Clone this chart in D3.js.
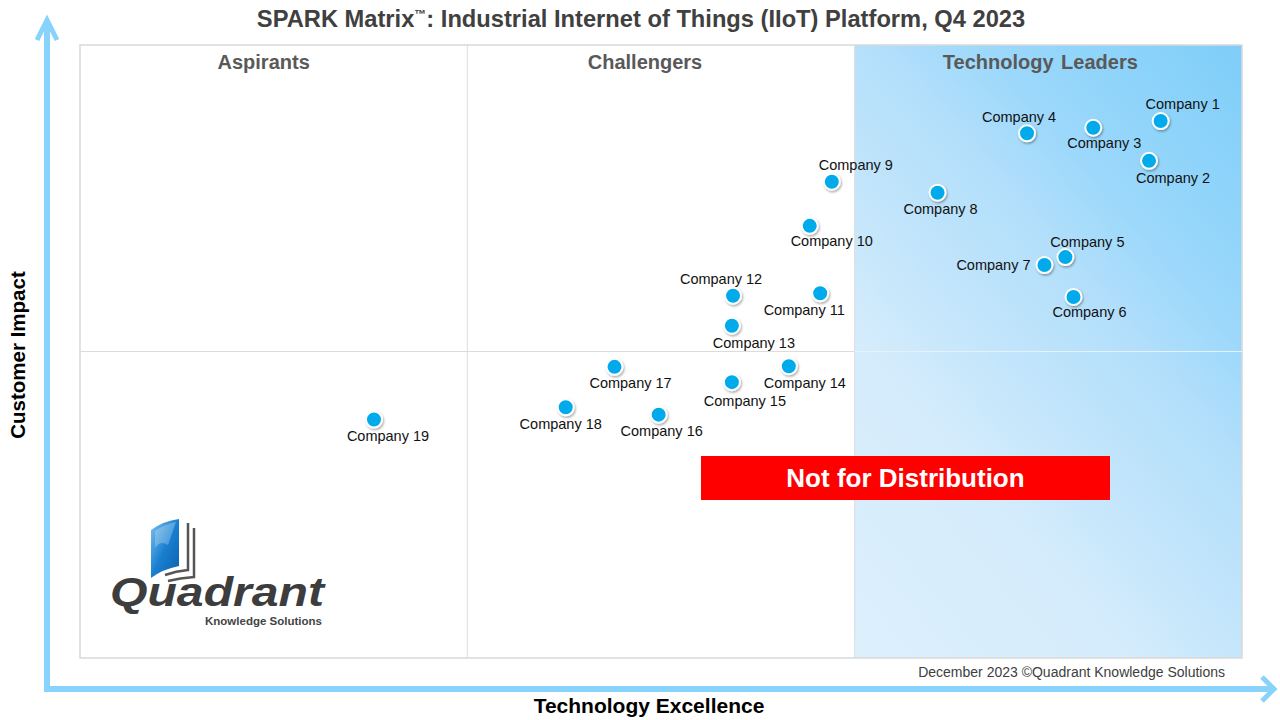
<!DOCTYPE html>
<html><head><meta charset="utf-8">
<script src="https://cdn.jsdelivr.net/npm/d3@7"></script>
<style>
html,body{margin:0;padding:0;background:#fff;}
svg{display:block;font-family:"Liberation Sans",Arial,sans-serif;}
</style></head>
<body>
<svg id="chart" width="1280" height="720"></svg>
<script>
// ---- data ----
const companies = ["Company 1","Company 2","Company 3","Company 4","Company 5","Company 6","Company 7","Company 8","Company 9","Company 10",
  "Company 11","Company 12","Company 13","Company 14","Company 15","Company 16","Company 17","Company 18","Company 19"];
const techExcellence = [93.0,92.0,87.2,81.5,84.8,85.5,83.0,73.8,64.7,62.8,63.7,56.2,56.1,61.0,56.1,49.8,46.0,41.8,25.3];
const customerImpact = [87.6,81.1,86.5,85.6,65.4,58.9,64.1,75.9,77.7,70.5,59.5,59.1,54.2,47.6,45.0,39.7,47.5,40.9,38.9];
const quadrantNames = ["Aspirants","Challengers","Technology Leaders"];
const titleMain = "SPARK Matrix";
const titleRest = ": Industrial Internet of Things (IIoT) Platform, Q4 2023";
const xAxisTitle = "Technology Excellence";
const yAxisTitle = "Customer Impact";
const footerText = "December 2023 \u00A9Quadrant Knowledge Solutions";
const bannerText = "Not for Distribution";

// ---- layout (label offsets relative to dot, px) ----
const labelOffsets = [[22,-17],[24,17],[11,15],[-8,-16],[22,-15],[16,15],[-51,0],[3,16],[24,-17],[22,15],
  [-16,17],[-12,-17],[22,17],[16,17],[13,19],[3,16],[16,16],[-5,17],[14,16]];
const quadLabelShift = [-10,-16,-8];

const svg = d3.select("#chart");
const plot = {l:80, r:1242, t:45, b:658};
const x = d3.scaleLinear().domain([0,100]).range([plot.l, plot.r]);
const y = d3.scaleLinear().domain([0,100]).range([plot.b, plot.t]);

const defs = svg.append("defs");
const g = defs.append("linearGradient").attr("id","leadGrad").attr("gradientUnits","userSpaceOnUse")
  .attr("x1",x(200/3)).attr("y1",plot.b).attr("x2",x(200/3)+525).attr("y2",plot.b-452);
[[0,"#dceffd"],[0.3,"#d5ecfc"],[0.45,"#c2e5fb"],[0.6,"#b3dffb"],[0.72,"#9cd8fb"],[1,"#7ecef9"]]
  .forEach(s=>g.append("stop").attr("offset",s[0]).attr("stop-color",s[1]));
const f = defs.append("filter").attr("id","shadow").attr("x","-50%").attr("y","-50%").attr("width","200%").attr("height","200%");
f.append("feDropShadow").attr("dx",1).attr("dy",1.5).attr("stdDeviation",1.2).attr("flood-color","#000").attr("flood-opacity",0.35);
const bg = defs.append("linearGradient").attr("id","bookGrad").attr("x1","0").attr("y1","0").attr("x2","1").attr("y2","1");
bg.append("stop").attr("offset","0").attr("stop-color","#7fc4f0");
bg.append("stop").attr("offset","0.5").attr("stop-color","#1a7fd0");
bg.append("stop").attr("offset","1").attr("stop-color","#0a5fae");

// leaders column gradient
svg.append("rect").attr("x",x(200/3)).attr("y",plot.t).attr("width",x(100)-x(200/3)).attr("height",plot.b-plot.t)
  .attr("fill","url(#leadGrad)");

// frame & dividers
svg.append("rect").attr("x",plot.l).attr("y",plot.t).attr("width",plot.r-plot.l).attr("height",plot.b-plot.t)
  .attr("fill","none").attr("stroke","#d9d9d9").attr("stroke-width",1.5);
[100/3, 200/3].forEach(v=>{
  svg.append("line").attr("x1",x(v)).attr("x2",x(v)).attr("y1",plot.t).attr("y2",plot.b)
    .attr("stroke","#dcdcdc").attr("stroke-width",1);
});
svg.append("line").attr("x1",plot.l).attr("x2",x(200/3)).attr("y1",y(50)).attr("y2",y(50))
  .attr("stroke","#dcdcdc").attr("stroke-width",1);
svg.append("line").attr("x1",x(200/3)).attr("x2",plot.r).attr("y1",y(50)).attr("y2",y(50))
  .attr("stroke","#e6f2fb").attr("stroke-width",1);

// quadrant labels
quadrantNames.forEach((n,i)=>{
  svg.append("text").attr("x",(x(i*100/3)+x((i+1)*100/3))/2 + quadLabelShift[i]).attr("y",69)
    .attr("text-anchor","middle").attr("font-size",20).attr("font-weight","bold")
    .attr("fill","#595959").attr("word-spacing","2px").text(n);
});

// title
const t = svg.append("text").attr("x",641).attr("y",27).attr("text-anchor","middle")
  .attr("font-size",23.7).attr("font-weight","bold").attr("fill","#404040");
t.append("tspan").text(titleMain);
t.append("tspan").attr("font-size",12).attr("dy",-9).text("\u2122");
t.append("tspan").attr("dy",9).text(titleRest);

// axes arrows
const arrowColor = "#88d3fb";
svg.append("path").attr("d","M47,692 L47,20").attr("stroke",arrowColor).attr("stroke-width",6).attr("fill","none");
svg.append("path").attr("d","M37,40 L47,20 L57,40").attr("stroke",arrowColor).attr("stroke-width",5).attr("fill","none");
svg.append("path").attr("d","M44,689 L1274,689").attr("stroke",arrowColor).attr("stroke-width",6).attr("fill","none");
svg.append("path").attr("d","M1262,677 L1274,689 L1262,701").attr("stroke",arrowColor).attr("stroke-width",5).attr("fill","none");

// axis titles
svg.append("text").attr("x",649).attr("y",713).attr("text-anchor","middle").attr("font-size",21)
  .attr("font-weight","bold").attr("fill","#000").text(xAxisTitle);
svg.append("text").attr("transform","translate(25,355) rotate(-90)").attr("text-anchor","middle")
  .attr("font-size",20.5).attr("font-weight","bold").attr("fill","#000").text(yAxisTitle);

// footer
svg.append("text").attr("x",1225).attr("y",677).attr("text-anchor","end").attr("font-size",14)
  .attr("fill","#404040").text(footerText);

// banner
svg.append("rect").attr("x",701).attr("y",456).attr("width",409).attr("height",44).attr("fill","#ff0000");
svg.append("text").attr("x",905.5).attr("y",487).attr("text-anchor","middle").attr("font-size",26)
  .attr("font-weight","bold").attr("fill","#fff").text(bannerText);

// logo
const logo = svg.append("g");
logo.append("path").attr("d","M188,523 L188,570 Q176,571 165,575").attr("stroke","#555").attr("stroke-width",2.5).attr("fill","none");
logo.append("path").attr("d","M194,528 L194,577 Q180,578 168,581").attr("stroke","#555").attr("stroke-width",2.5).attr("fill","none");
logo.append("path").attr("d","M151,530 Q163,521 179,519 L179,566 Q163,569 151,578 Z").attr("fill","url(#bookGrad)");
logo.append("path").attr("d","M155,531 Q165,524 176,522 L168,545 Q160,540 155,548 Z").attr("fill","#fff").attr("opacity",0.25);
logo.append("text").attr("x",110).attr("y",606).attr("font-size",40).attr("font-weight","bold")
  .attr("font-style","italic").attr("fill","#3d3d3d").attr("textLength",214).attr("lengthAdjust","spacingAndGlyphs")
  .text("Quadrant");
logo.append("text").attr("x",322).attr("y",625).attr("text-anchor","end").attr("font-size",10.5)
  .attr("font-weight","bold").attr("fill","#444").attr("textLength",117).attr("lengthAdjust","spacingAndGlyphs")
  .text("Knowledge Solutions");

// points
const data = companies.map((c,i)=>({name:c, tx:techExcellence[i], ci:customerImpact[i], off:labelOffsets[i]}));
const pts = svg.append("g").selectAll("g").data(data).join("g")
  .attr("transform",d=>`translate(${x(d.tx)},${y(d.ci)})`);
pts.append("circle").attr("r",8).attr("fill","#00aaeb").attr("stroke","#fff").attr("stroke-width",2)
  .attr("filter","url(#shadow)");
pts.append("text").attr("x",d=>d.off[0]).attr("y",d=>d.off[1]).attr("dy","0.35em")
  .attr("text-anchor","middle").attr("font-size",14.5).attr("fill","#111").text(d=>d.name);
</script>
</body></html>
